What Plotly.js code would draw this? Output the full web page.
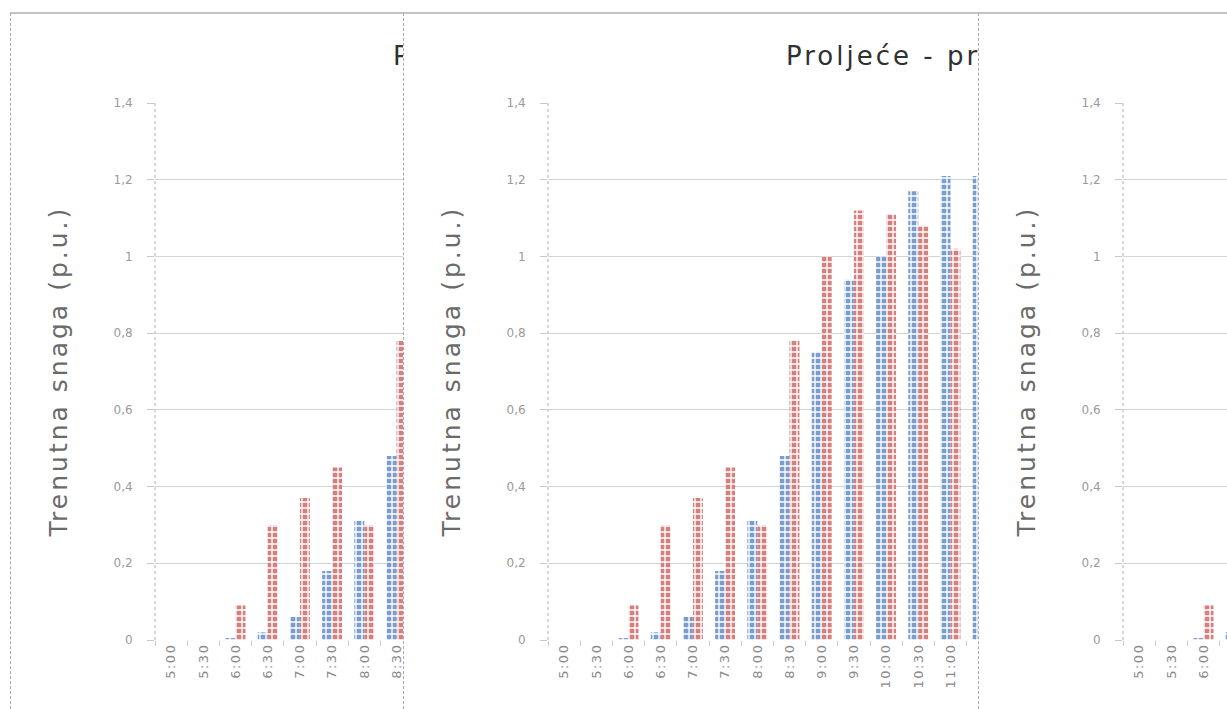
<!DOCTYPE html>
<html>
<head>
<meta charset="utf-8">
<script src="https://cdn.plot.ly/plotly-3.0.1.min.js"></script>
<style>
  html, body { margin: 0; padding: 0; background: #ffffff; width: 1227px; height: 709px; overflow: hidden; }
  .panel { position: absolute; top: 0; height: 709px; overflow: hidden; background: #ffffff; }
  .vline { position: absolute; top: 13px; bottom: 0; left: 0; width: 0; border-left: 1px dashed #a8a8a8; z-index: 5; }
  .hline { position: absolute; top: 12px; left: 0; right: 0; height: 2px; background: #c4c4c4; z-index: 5; }
  .chart { position: absolute; top: 0; left: 0; }
</style>
</head>
<body>
<div id="p1" class="panel" style="left:10px; width:393px;"><div class="hline"></div><div class="vline"></div><div id="c1" class="chart"></div></div>
<div id="p2" class="panel" style="left:403px; width:575px;"><div class="hline"></div><div class="vline"></div><div id="c2" class="chart"></div></div>
<div id="p3" class="panel" style="left:978px; width:249px;"><div class="hline"></div><div class="vline"></div><div id="c3" class="chart"></div></div>
<script>
// ---- data ----
const categories = ['5:00','5:30','6:00','6:30','7:00','7:30','8:00','8:30','9:00','9:30','10:00','10:30','11:00','11:30'];
const blueValues = [0, 0, 0.005, 0.02, 0.06, 0.18, 0.31, 0.48, 0.75, 0.94, 1.00, 1.17, 1.21, 1.21];
const redValues  = [0, 0, 0.09, 0.30, 0.37, 0.45, 0.30, 0.78, 1.00, 1.12, 1.11, 1.08, 1.02, null];
const yTickVals = [0, 0.2, 0.4, 0.6, 0.8, 1, 1.2, 1.4];
const yTickText = ['0', '0,2', '0,4', '0,6', '0,8', '1', '1,2', '1,4'];
const titleText = 'Proljeće - pr';
const yTitleText = 'Trenutna snaga (p.u.)';

// ---- layout constants ----
const slot = 32.2;
const nSlots = 20;
const marginL = 145, marginR = 40, marginT = 103, marginB = 69;
const W = marginL + slot * nSlots + marginR;
const H = 709;
const FONT = 'DejaVu Sans, sans-serif';

function spaced(t, px) { return '<span style="letter-spacing:' + px + 'px">' + t + '</span>'; }

function makeTraces() {
  return [
    {
      type: 'bar', x: categories, y: blueValues, name: 'A',
      marker: {
        color: '#7a9dd0',
        line: { width: 0 },
        pattern: { shape: '+', fgcolor: '#ffffff', bgcolor: '#7a9dd0', size: 6, solidity: 0.4, fillmode: 'replace' }
      },
      hoverinfo: 'skip'
    },
    {
      type: 'bar', x: categories, y: redValues, name: 'B',
      marker: {
        color: '#d5807f',
        line: { width: 0 },
        pattern: { shape: '+', fgcolor: '#ffffff', bgcolor: '#d5807f', size: 6, solidity: 0.4, fillmode: 'replace' }
      },
      hoverinfo: 'skip'
    }
  ];
}

function makeLayout() {
  return {
    width: W, height: H,
    margin: { l: marginL, r: marginR, t: marginT, b: marginB, pad: 0 },
    paper_bgcolor: 'rgba(0,0,0,0)', plot_bgcolor: 'rgba(0,0,0,0)',
    showlegend: false,
    barmode: 'group', bargap: 0.38, bargroupgap: 0,
    font: { family: FONT, color: '#8a8a8a' },
    title: {
      text: spaced(titleText, 3),
      xref: 'container', x: 383 / W, xanchor: 'left',
      yref: 'container', y: 1 - 56 / H, yanchor: 'middle',
      font: { family: FONT, size: 26, color: '#303030' }
    },
    xaxis: {
      type: 'category',
      categoryarray: categories,
      tickmode: 'array',
      tickvals: categories,
      ticktext: categories.map(function (c) { return spaced(c, 1.5); }),
      range: [-0.5, nSlots - 0.5],
      showgrid: false, showline: false, zeroline: false,
      ticks: 'outside', tickson: 'boundaries', ticklen: 5, tickcolor: '#c8c8c8', tickwidth: 1,
      tickangle: -90,
      tickfont: { size: 13, color: '#8a8a8a', family: FONT },
      fixedrange: true
    },
    yaxis: {
      range: [0, 1.4],
      tickvals: yTickVals,
      ticktext: yTickText,
      showgrid: true, gridcolor: '#d4d4d4', gridwidth: 1,
      zeroline: false, showline: false,
      ticks: 'outside', ticklen: 7, tickcolor: '#c8c8c8',
      ticklabelstandoff: 12,
      tickfont: { size: 12, color: '#9a9a9a', family: FONT },
      fixedrange: true
    },
    shapes: [
      { type: 'line', xref: 'paper', yref: 'paper', x0: 0, x1: 0, y0: 0, y1: 1,
        line: { color: '#b0b0b0', width: 1, dash: 'dot' } }
    ],
    annotations: [
      { text: spaced(yTitleText, 3), xref: 'paper', yref: 'paper', x: 0, y: 0.5,
        xanchor: 'center', yanchor: 'middle', xshift: -97, textangle: -90, showarrow: false,
        font: { family: FONT, size: 25, color: '#6a6a6a' } }
    ]
  };
}

['c1', 'c2', 'c3'].forEach(function (id) {
  Plotly.newPlot(id, makeTraces(), makeLayout(), { staticPlot: true, displayModeBar: false });
});
</script>
</body>
</html>
